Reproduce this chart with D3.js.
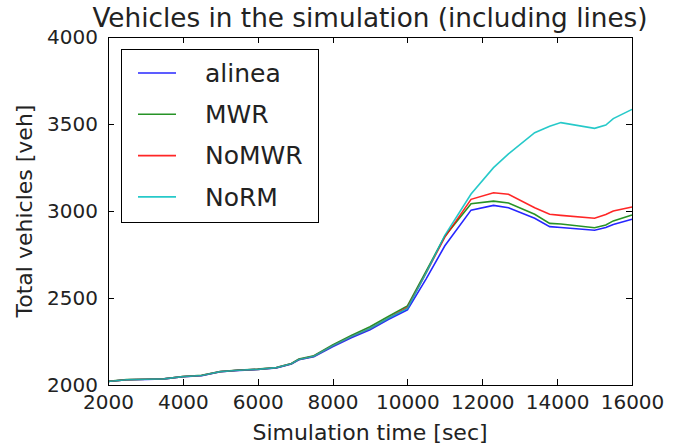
<!DOCTYPE html>
<html>
<head>
<meta charset="UTF-8">
<title>Vehicles in the simulation</title>
<script src="https://cdn.jsdelivr.net/npm/d3@7"></script>
<style type="text/css">
body, html {
    margin: 0;
    background: #fff;
}
.axis text {
    font: 20px "DejaVu Sans", sans-serif;
    fill: #222;
}
.axis line {
    stroke: #000;
    shape-rendering: crispEdges;
}
</style>
</head>
<body>
<div class="chart"></div>
<script type="text/javascript">
// simulation time [sec]
var times = [2000, 2500, 3000, 3500, 4000, 4500, 5000, 5500, 6000, 6500, 6900, 7100, 7500, 8000, 8500,
             9000, 9500, 10000, 10500, 11000, 11700, 12300, 12700, 13400, 13800, 14100, 15000, 15300, 15500, 16000];

var alinea = [2020, 2030, 2032, 2035, 2047, 2053, 2076, 2084, 2089, 2098, 2120, 2145, 2163, 2220, 2272,
              2318, 2378, 2432, 2610, 2800, 3005, 3032, 3019, 2958, 2910, 2905, 2889, 2905, 2923, 2952];
var mwr    = [2021, 2031, 2033, 2036, 2049, 2056, 2078, 2086, 2091, 2101, 2124, 2149, 2168, 2230, 2285,
              2335, 2395, 2455, 2655, 2855, 3042, 3057, 3046, 2981, 2929, 2925, 2904, 2920, 2943, 2977];
var nomwr  = [2020, 2030, 2033, 2035, 2048, 2055, 2077, 2085, 2090, 2100, 2122, 2147, 2165, 2225, 2278,
              2325, 2386, 2445, 2645, 2850, 3067, 3105, 3096, 3019, 2981, 2975, 2958, 2980, 3000, 3023];
var norm   = [2020, 2030, 2033, 2035, 2048, 2055, 2077, 2085, 2090, 2100, 2122, 2147, 2165, 2225, 2278,
              2325, 2385, 2440, 2645, 2860, 3098, 3249, 3328, 3450, 3487, 3508, 3475, 3494, 3531, 3584];

var seriesNames  = ["alinea", "MWR", "NoMWR", "NoRM"];
var seriesColors = ["#0000ff", "#008000", "#ff0000", "#00bfbf"];
var seriesValues = [alinea, mwr, nomwr, norm];

var xTicks = [2000, 4000, 6000, 8000, 10000, 12000, 14000, 16000];
var yTicks = [2000, 2500, 3000, 3500, 4000];

var margin = {top: 37, right: 54, bottom: 62, left: 108},
    W = 686, H = 447,
    width  = W - margin.left - margin.right,
    height = H - margin.top - margin.bottom;

var x = d3.scaleLinear().domain([2000, 16000]).range([0, width]);
var y = d3.scaleLinear().domain([2000, 4000]).range([height, 0]);

var svg = d3.select(".chart").append("svg")
    .attr("width", W)
    .attr("height", H)
    .style("display", "block");

var g = svg.append("g")
    .attr("transform", "translate(" + margin.left + "," + margin.top + ")");

// lines
var line = d3.line()
    .x(function (d, i) { return x(times[i]); })
    .y(function (d) { return y(d); });

seriesValues.forEach(function (vals, k) {
    g.append("path")
        .datum(vals)
        .attr("fill", "none")
        .attr("stroke", seriesColors[k])
        .attr("stroke-width", 1.6)
        .attr("stroke-opacity", 0.85)
        .attr("d", line);
});

// axes, ticks pointing inward
g.append("g")
    .attr("class", "axis")
    .attr("transform", "translate(0," + height + ")")
    .call(d3.axisBottom(x).tickValues(xTicks).tickSize(-6).tickPadding(10).tickFormat(d3.format("d")))
    .call(function (s) { s.select(".domain").remove(); });

g.append("g")
    .attr("class", "axis")
    .call(d3.axisTop(x).tickValues(xTicks).tickSize(-6).tickFormat(""))
    .call(function (s) { s.select(".domain").remove(); });

g.append("g")
    .attr("class", "axis")
    .call(d3.axisLeft(y).tickValues(yTicks).tickSize(-6).tickPadding(10).tickFormat(d3.format("d")))
    .call(function (s) { s.select(".domain").remove(); });

g.append("g")
    .attr("class", "axis")
    .attr("transform", "translate(" + width + ",0)")
    .call(d3.axisRight(y).tickValues(yTicks).tickSize(-6).tickFormat(""))
    .call(function (s) { s.select(".domain").remove(); });

// frame
g.append("rect")
    .attr("x", 0.5)
    .attr("y", 0.5)
    .attr("width", width)
    .attr("height", height)
    .attr("fill", "none")
    .attr("stroke", "#000")
    .attr("stroke-width", 1);

// title and labels
svg.append("text")
    .attr("x", margin.left + width / 2)
    .attr("y", 27)
    .attr("text-anchor", "middle")
    .style("font", "26.3px 'DejaVu Sans', sans-serif")
    .style("fill", "#222")
    .text("Vehicles in the simulation (including lines)");

svg.append("text")
    .attr("x", margin.left + width / 2)
    .attr("y", 440)
    .attr("text-anchor", "middle")
    .style("font", "22px 'DejaVu Sans', sans-serif")
    .style("fill", "#222")
    .text("Simulation time [sec]");

svg.append("text")
    .attr("transform", "translate(32," + (margin.top + height / 2) + ") rotate(-90)")
    .attr("text-anchor", "middle")
    .style("font", "22px 'DejaVu Sans', sans-serif")
    .style("fill", "#222")
    .text("Total vehicles [veh]");

// legend
var legend = g.append("g")
    .attr("transform", "translate(13,12)");

legend.append("rect")
    .attr("x", 0.5)
    .attr("y", 0.5)
    .attr("width", 197)
    .attr("height", 173)
    .attr("fill", "#fff")
    .attr("stroke", "#000")
    .attr("stroke-width", 1);

var item = legend.selectAll(".item")
    .data(seriesNames)
    .enter()
    .append("g")
    .attr("class", "item")
    .attr("transform", function (d, i) { return "translate(0," + (24 + i * 41.3) + ")"; });

item.append("line")
    .attr("x1", 17)
    .attr("x2", 55)
    .attr("stroke", function (d, i) { return seriesColors[i]; })
    .attr("stroke-width", 1.6)
    .attr("stroke-opacity", 0.85);

item.append("text")
    .attr("x", 84)
    .attr("dy", "0.35em")
    .style("font", "25px 'DejaVu Sans', sans-serif")
    .style("fill", "#222")
    .text(function (d) { return d; });
</script>
</body>
</html>
